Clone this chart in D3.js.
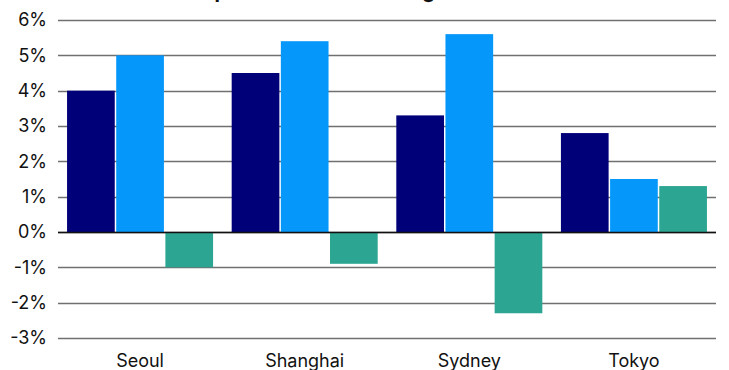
<!DOCTYPE html>
<html>
<head>
<meta charset="utf-8">
<script src="https://cdn.jsdelivr.net/npm/d3@7"></script>
<style>
  body { margin: 0; background: #fff; }
  svg { display: block; font-family: Inter, "Noto Sans", sans-serif; }
</style>
</head>
<body>
<script>
// market names along the bottom
var cities = ["Seoul", "Shanghai", "Sydney", "Tokyo"];
var seriesNames = ["s1", "s2", "s3"];
// values in %
var s1 = [4.0, 4.5, 3.3, 2.8];
var s2 = [5.0, 5.4, 5.6, 1.5];
var s3 = [-1.0, -0.9, -2.3, 1.3];
var yTicks = [-3, -2, -1, 0, 1, 2, 3, 4, 5, 6];
var colors = ["#000078", "#0597fa", "#2ca692"];

var w = 729, h = 370;

var svg = d3.select("body").append("svg")
    .attr("width", w)
    .attr("height", h);

var x0 = d3.scaleBand()
    .domain(cities)
    .range([58, 716])
    .paddingInner(0.113)
    .paddingOuter(0.055);

var x1 = d3.scaleBand()
    .domain(seriesNames)
    .range([0, x0.bandwidth()])
    .paddingInner(0.03);

var y = d3.scaleLinear()
    .domain([-3, 6])
    .range([338, 20]);

// title is mostly cut off at the top in the original, only descenders show
svg.append("text")
    .attr("x", 188)
    .attr("y", -2)
    .style("font-size", "20px")
    .style("font-weight", "bold")
    .style("fill", "#111")
    .text("Capital and rental value growth");

// gridlines
svg.append("g")
    .selectAll("line")
    .data(yTicks)
    .enter().append("line")
    .attr("x1", 58)
    .attr("x2", 716)
    .attr("y1", function(d) { return Math.round(y(d)) + 0.5; })
    .attr("y2", function(d) { return Math.round(y(d)) + 0.5; })
    .attr("stroke", "#707070")
    .attr("stroke-width", 1.3);

// y tick labels
svg.append("g")
    .selectAll("text")
    .data(yTicks)
    .enter().append("text")
    .attr("x", 47)
    .attr("y", function(d) { return y(d); })
    .attr("dy", "0.36em")
    .attr("text-anchor", "end")
    .style("font-size", "18px")
    .style("fill", "#111")
    .text(function(d) { return d + "%"; });

var rows = cities.map(function(c, i) {
    return { city: c, vals: [s1[i], s2[i], s3[i]] };
});

var groups = svg.selectAll(".grp")
    .data(rows)
    .enter().append("g")
    .attr("class", "grp")
    .attr("transform", function(d) { return "translate(" + x0(d.city) + ",0)"; });

groups.selectAll("rect")
    .data(function(d) { return d.vals; })
    .enter().append("rect")
    .attr("x", function(d, i) { return x1(seriesNames[i]); })
    .attr("width", x1.bandwidth())
    .attr("y", function(d) { return y(Math.max(0, d)); })
    .attr("height", function(d) { return Math.abs(y(d) - y(0)); })
    .attr("fill", function(d, i) { return colors[i]; });

// zero line over the bars
svg.append("line")
    .attr("x1", 58)
    .attr("x2", 716)
    .attr("y1", y(0) + 0.5)
    .attr("y2", y(0) + 0.5)
    .attr("stroke", "#111")
    .attr("stroke-width", 1.6);

// category labels
svg.append("g")
    .selectAll("text")
    .data(cities)
    .enter().append("text")
    .attr("x", function(d) { return x0(d) + x0.bandwidth() / 2; })
    .attr("y", 367)
    .attr("text-anchor", "middle")
    .style("font-size", "18px")
    .style("fill", "#111")
    .text(function(d) { return d; });
</script>
</body>
</html>
